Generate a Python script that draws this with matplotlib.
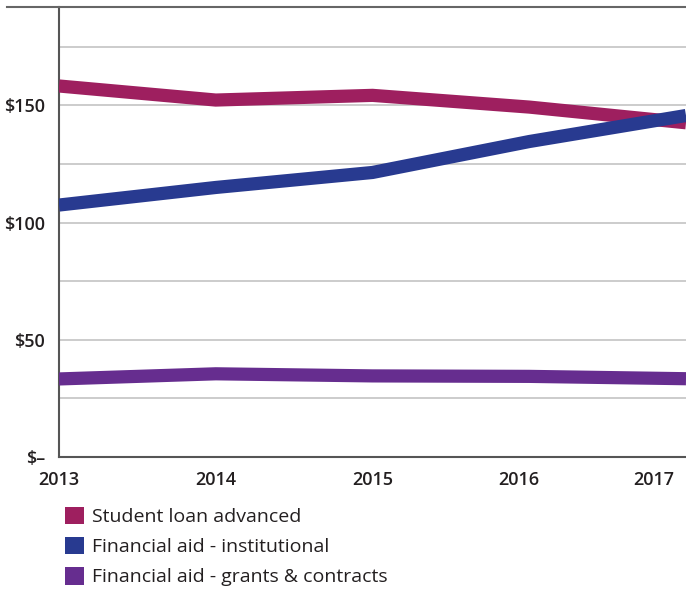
import matplotlib.pyplot as plt
import matplotlib.transforms as mtransforms
from matplotlib.patches import Patch
from matplotlib.lines import Line2D

years = [2013, 2014, 2015, 2016, 2017]
loan_advanced = [158.3, 152.3, 154.3, 149.3, 142.6]
aid_institutional = [107.5, 115.0, 121.4, 134.6, 145.7]
aid_grants = [33.3, 35.5, 34.6, 34.4, 33.4]

series_names = ["Student loan advanced", "Financial aid - institutional",
                "Financial aid - grants & contracts"]
colors = ["#9e1f5f", "#283a90", "#662d8f"]

ytick_vals = [0, 50, 100, 150]
ytick_labels = ["$\u2013", "$50", "$100", "$150"]

plt.rcParams["font.family"] = ["Open Sans", "DejaVu Sans"]

fig = plt.figure(figsize=(6.86, 5.93), dpi=100)
ax = fig.add_axes([59/686, 1 - 457/593, 1 - 59/686, 450/593])

for vals, c in zip([loan_advanced, aid_institutional, aid_grants], colors):
    ax.plot(years, vals, color=c, linewidth=9.5, solid_capstyle="butt",
            solid_joinstyle="miter", zorder=3)

ax.set_xlim(2013, 2017)
ax.set_ylim(0, 192)
ax.set_yticks(ytick_vals)
ax.set_yticklabels(ytick_labels, fontsize=13, fontweight="semibold", color="#231f20")
for g in range(25, 190, 25):
    ax.axhline(g, color="#c4c4c4", linewidth=1.2, zorder=1)
ax.set_xticks(years)
ax.set_xticklabels([str(y) for y in years], fontsize=13, fontweight="semibold",
                   color="#231f20")
ax.tick_params(axis="y", length=0, pad=10)
ax.tick_params(axis="x", length=0, pad=10)

# nudge the last two year labels left like the original layout
xl = ax.get_xticklabels()
xl[3].set_transform(xl[3].get_transform() + mtransforms.ScaledTranslation(-10/100, 0, fig.dpi_scale_trans))
xl[4].set_transform(xl[4].get_transform() + mtransforms.ScaledTranslation(-32/100, 0, fig.dpi_scale_trans))

for side in ["top", "right"]:
    ax.spines[side].set_visible(False)
ax.spines["left"].set_color("#555555")
ax.spines["left"].set_linewidth(1.5)
ax.spines["bottom"].set_color("#555555")
ax.spines["bottom"].set_linewidth(1.5)

fig.add_artist(Line2D([7/686, 1], [1 - 7/593, 1 - 7/593], color="#666666", linewidth=1.5))

handles = [Patch(facecolor=c, edgecolor="none") for c in colors]
fig.legend(handles, series_names, loc="upper left", bbox_to_anchor=(65/686, 1 - 507/593),
           frameon=False, fontsize=14, handlelength=1.0, handleheight=1.0,
           handletextpad=0.4, labelspacing=0.55, borderaxespad=0, borderpad=0,
           labelcolor="#231f20")

fig.savefig("out.png", dpi=100)
